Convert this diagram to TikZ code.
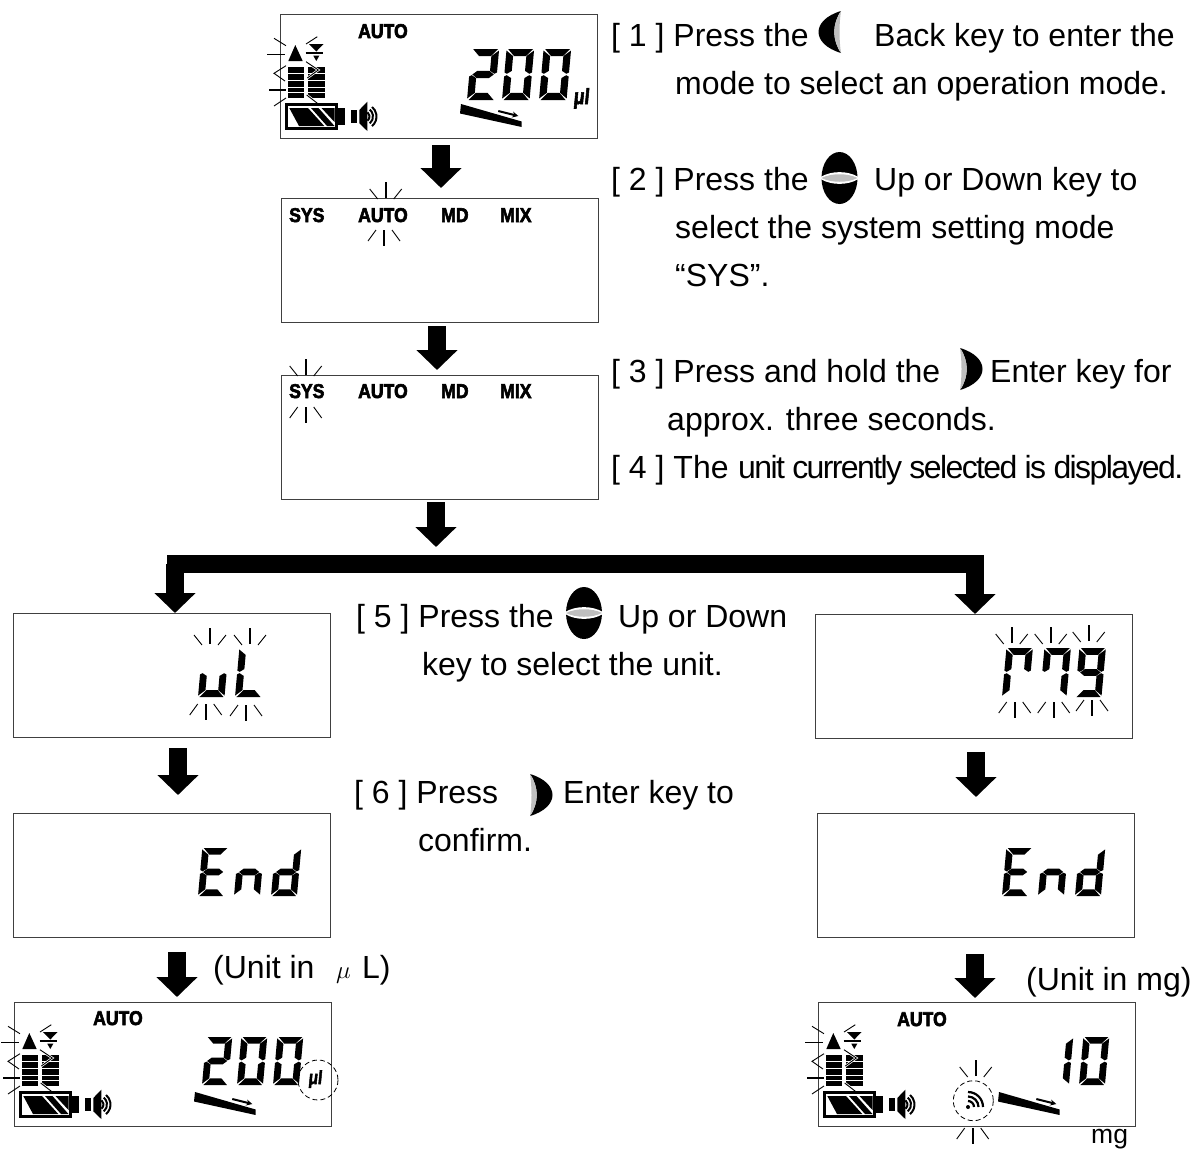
\documentclass[tikz,border=0pt]{standalone}
\usepackage{fontspec}
\usepackage{tikz}
\setmainfont{Liberation Sans}
\newfontfamily\lcdfont[FakeBold=3,FakeStretch=0.88]{Liberation Sans Bold}
\newfontfamily\unitfont[FakeBold=2.5,FakeStretch=0.8,FakeSlant=0.1]{Liberation Sans Bold}
\usetikzlibrary{arrows.meta,positioning,calc}

% Segments of one LCD digit (27 wide, 50 high, y upwards)
\newcommand{\sega}{(1.5,50)--(26,50)--(19.5,43)--(8,43)--cycle}
\newcommand{\segb}{(27,48.5)--(27,27)--(24.5,25.7)--(20,28.5)--(20,43)--cycle}
\newcommand{\segc}{(27,23)--(27,1.5)--(20,7)--(20,21.5)--(24.5,24.3)--cycle}
\newcommand{\segd}{(1.5,0)--(26,0)--(19.5,7)--(8,7)--cycle}
\newcommand{\sege}{(0,1.5)--(7,7)--(7,21.5)--(2.5,24.3)--(0,23)--cycle}
\newcommand{\segf}{(0,48.5)--(7,43)--(7,28.5)--(2.5,25.7)--(0,27)--cycle}
\newcommand{\segg}{(3,25)--(7.5,28.5)--(19.5,28.5)--(24,25)--(19.5,21.5)--(7.5,21.5)--cycle}
% x, y of lower left corner, scale, list of segments
\newcommand{\lcddigit}[4]{%
  \begin{scope}[shift={(#1,#2)},x={(#3pt,0pt)},y={(0.09*#3pt,#3pt)}]
    \foreach \s in {#4} {\fill \csname seg\s\endcsname;}
  \end{scope}}

% Flashing marks above and below a symbol
\newcommand{\raysup}[2]{%
  \begin{scope}[shift={(#1,#2)}]
    \draw[raythick] (0,0) -- (0,-16);
    \draw[raythin] (-8,1) -- (-16,-9);
    \draw[raythin] (8,1) -- (16,-9);
  \end{scope}}
\newcommand{\raysdown}[2]{%
  \begin{scope}[shift={(#1,#2)}]
    \draw[raythick] (0,0) -- (0,16);
    \draw[raythin] (-8,0) -- (-16,11);
    \draw[raythin] (8,0) -- (16,11);
  \end{scope}}

% Keys: tip x and centre y
\newcommand{\enterkey}[2]{%
  \begin{scope}[shift={(#1,#2)}]
    \fill[black] (0,-21) .. controls (30,-12) and (30,12) .. (0,21) .. controls (9,8) and (9,-8) .. (0,-21);
    \fill[black!25] (0,-21) .. controls (9,-8) and (9,8) .. (0,21) .. controls (2,8) and (2,-8) .. (0,-21);
  \end{scope}}
\newcommand{\backkey}[2]{%
  \begin{scope}[shift={(#1,#2)},xscale=-1]
    \fill[black] (0,-21) .. controls (30,-12) and (30,12) .. (0,21) .. controls (9,8) and (9,-8) .. (0,-21);
    \fill[black!25] (0,-21) .. controls (9,-8) and (9,8) .. (0,21) .. controls (2,8) and (2,-8) .. (0,-21);
  \end{scope}}
\newcommand{\updownkey}[2]{%
  \begin{scope}[shift={(#1,#2)}]
    \fill[black] (0,0) ellipse [x radius=18, y radius=26];
    \fill[white] (-19,-1) .. controls (-8,-7.5) and (8,-7.5) .. (19,-1) -- (19,1) .. controls (8,7.5) and (-8,7.5) .. (-19,1) -- cycle;
    \fill[black!25] (-18,0) .. controls (-8,-5) and (8,-5) .. (18,0) .. controls (8,5) and (-8,5) .. (-18,0);
  \end{scope}}

% Symbols of the measuring screen, from the upper left corner of a display
\newcommand{\statusicons}[1]{%
  \begin{scope}[shift={(#1)}]
    % up and down marks
    \fill (8.3,47) -- (15.3,31) -- (22.7,47) -- cycle;
    \fill (29,30) -- (43.5,30) -- (36.3,37.5) -- cycle;
    \draw[line width=1.6pt] (25.7,38.7) -- (43.3,38.7);
    \fill (33.3,41.7) -- (39.3,41.7) -- (36.3,47) -- cycle;
    % volume bars
    \foreach \xa/\xb in {8.3/24,28.3/45} {
      \foreach \ya/\yb in {53.3/58.7,60/66,67/72.7,74.3/78.3,79.3/84.3}
        \fill (\xa,\ya) rectangle (\xb,\yb);
    }
    % flashing marks
    \draw[raythin] (-6,24.3) -- (6,31.7);
    \draw[raythin] (26,30) -- (37.3,22.7);
    \draw[raythick] (-12.7,40.3) -- (5,40.3);
    \draw[raythin] (6,51.7) -- (-6,59.3) -- (5,67);
    \draw[white,line width=2.4pt] (26,47.7) -- (38.3,56) -- (27.3,64);
    \draw[raythin] (26,47.7) -- (38.3,56) -- (27.3,64);
    \draw[raythick] (-11,75.7) -- (6,75.7);
    \draw[raythin] (-6,92) -- (6,84);
    \draw[white,line width=2.4pt] (26.7,81) -- (38.3,90);
    \draw[raythin] (26.7,81) -- (38.3,90);
    % battery
    \draw[line width=3.2pt] (6.5,90.5) rectangle (56.2,114.5);
    \fill (9.3,94) -- (28,94) -- (44.3,112) -- (19,112) -- cycle;
    \fill (31,94) -- (38.5,94) -- (54.5,112) -- (47,112) -- cycle;
    \fill (41.5,94) -- (54.5,94) -- (54.5,108) -- cycle;
    \fill (57.3,94.3) rectangle (65,111);
    % buzzer
    \fill (71,96) rectangle (76.7,109.3);
    \fill (79.3,96) -- (87.3,87.7) -- (87.3,117) -- (79.3,109.3) -- cycle;
    \foreach \r in {5.5,9,12.5}
      \draw[line width=2pt] ([shift={(-50:\r pt)}]84,102.5) arc (-50:50:\r pt);
    % tip and its movement
    \fill (181,90) -- (241.7,107.5) -- (241.7,113) -- (180,99.5) -- cycle;
    \draw[line width=2pt,-{Stealth[length=6pt,width=6pt]}] (218.3,97) -- (238.3,102);
  \end{scope}}

\begin{document}
\begin{tikzpicture}[
    x=1pt, y=-1pt,
    lcdbox/.style={draw=black!75, line width=1pt, minimum width=317pt, minimum height=124pt,
                   inner sep=0pt, anchor=north west},
    steptext/.style={font=\fontsize{32}{36}\selectfont, inner sep=0pt, anchor=base west},
    lcdtext/.style={font=\lcdfont\fontsize{20}{20}\selectfont, inner sep=0pt, anchor=base west},
    unittext/.style={font=\unitfont\fontsize{22}{22}\selectfont, inner sep=0pt, anchor=base west},
    bigarrow/.style={line width=18pt, -{Triangle[length=20pt,width=40pt]}},
    trunk/.style={line width=18pt},
    raythin/.style={line width=0.9pt},
    raythick/.style={line width=1.6pt},
    marker/.style={line width=0.8pt, dash pattern=on 5pt off 3pt},
]
\useasboundingbox (0,0) rectangle (1190,1149);

% Displays
\node[lcdbox] (disp1) at (280,14) {};
\node[lcdbox] (disp2) at (281,198) {};
\node[lcdbox] (disp3) at (281,375) {};
\node[lcdbox] (disp4) at (13,613) {};
\node[lcdbox] (disp5) at (815,614) {};
\node[lcdbox] (disp6) at (13,813) {};
\node[lcdbox] (disp7) at (817,813) {};
\node[lcdbox] (disp8) at (14,1002) {};
\node[lcdbox] (disp9) at (818,1002) {};

% Arrows
\coordinate (arr1) at (441,145);
\coordinate (arr2) at (437,326);
\coordinate (arr3) at (436,502);
\coordinate (trunkL) at (167,564);
\coordinate (trunkR) at (984,564);
\coordinate (armL) at (175,564);
\coordinate (armR) at (975,564);
\coordinate (arr4) at (178,748);
\coordinate (arr5) at (976,752);
\coordinate (arr6) at (177,952);
\coordinate (arr7) at (975,954);
\draw[bigarrow, shorten >=10pt] (arr1) -- (arr1 |- disp2.north);
\draw[bigarrow, shorten >=5pt] (arr2) -- (arr2 |- disp3.north);
\draw[bigarrow, shorten >=17pt] (arr3) -- (arr3 |- trunkL);
\draw[trunk] (trunkL) -- (trunkR);
\draw[bigarrow] (armL) -- (armL |- disp4.north);
\draw[bigarrow] (armR) -- (armR |- disp5.north);
\draw[bigarrow, shorten >=18pt] (arr4) -- (arr4 |- disp6.north);
\draw[bigarrow, shorten >=16pt] (arr5) -- (arr5 |- disp7.north);
\draw[bigarrow, shorten >=5pt] (arr6) -- (arr6 |- disp8.north);
\draw[bigarrow, shorten >=4pt] (arr7) -- (arr7 |- disp9.north);

% Display 1
\node[lcdtext] (auto1) at (358,38) {AUTO};
\statusicons{disp1.north west}
\lcddigit{467}{100}{1.02}{a,b,g,e,d}
\lcddigit{502}{100}{1.02}{a,b,c,d,e,f}
\lcddigit{539}{100}{1.02}{a,b,c,d,e,f}
\node[unittext] (ul1) at (573,104) {μl};

% Display 2
\node[lcdtext] (sys2) at (289,222) {SYS};
\node[lcdtext] (auto2) at (358,222) {AUTO};
\node[lcdtext] (md2) at (441,222) {MD};
\node[lcdtext] (mix2) at (500,222) {MIX};
\raysup{385.7}{198}
\raysdown{384}{230}

% Display 3
\node[lcdtext] (sys3) at (289,398) {SYS};
\node[lcdtext] (auto3) at (358,398) {AUTO};
\node[lcdtext] (md3) at (441,398) {MD};
\node[lcdtext] (mix3) at (500,398) {MIX};
\raysup{305.7}{375}
\raysdown{305.7}{407}

% Display 4
\lcddigit{198}{697}{0.98}{c,d,e}
\lcddigit{235}{697}{0.98}{d,e,f}
\raysup{210}{644}
\raysup{250}{644}
\raysdown{205.7}{704}
\raysdown{246}{705}

% Display 5
\lcddigit{1002}{697}{0.98}{a,b,e,f}
\lcddigit{1040}{697}{0.98}{a,b,c,f}
\lcddigit{1075}{697}{0.98}{a,b,c,d,f,g}
\raysup{1011.7}{643}
\raysup{1050.7}{643}
\raysup{1088.7}{641}
\raysdown{1014.7}{702}
\raysdown{1053.7}{702}
\raysdown{1092}{700}

% Displays 6 and 7
\lcddigit{198}{896}{0.96}{a,d,e,f,g}
\lcddigit{234}{896}{0.96}{c,e,g}
\lcddigit{271}{896}{0.96}{b,c,d,e,g}
\lcddigit{1002}{896}{0.96}{a,d,e,f,g}
\lcddigit{1038}{896}{0.96}{c,e,g}
\lcddigit{1075}{896}{0.96}{b,c,d,e,g}

% Display 8
\node[lcdtext] (auto8) at (93,1025) {AUTO};
\statusicons{disp8.north west}
\lcddigit{202}{1085}{0.96}{a,b,g,e,d}
\lcddigit{237}{1085}{0.96}{a,b,c,d,e,f}
\lcddigit{273}{1085}{0.96}{a,b,c,d,e,f}
\node[unittext, font=\unitfont\fontsize{19}{19}\selectfont] (ul8) at (308,1084) {μl};
\draw[marker] (318,1080) circle [radius=20];

% Display 9
\node[lcdtext] (auto9) at (897,1026) {AUTO};
\statusicons{disp9.north west}
\lcddigit{1043}{1085}{0.96}{b,c}
\lcddigit{1079}{1085}{0.96}{a,b,c,d,e,f}
\draw[marker] (973.3,1100.7) circle [radius=20];
\fill (968,1107) circle [radius=2];
\foreach \r in {6,10.5,15}
  \draw[line width=2.2pt] ([shift={(0:\r pt)}]968,1107) arc (0:90:\r pt);
\raysup{975.7}{1076}
\raysdown{972.7}{1128}

% Texts
\node[steptext] (t1a) at (611,46) {[ 1 ] Press the};
\backkey{841}{32}
\node[steptext] (t1b) at (874,46) {Back key to enter the};
\node[steptext] (t1c) at (675,94) {mode to select an operation mode.};
\node[steptext] (t2a) at (611,190) {[ 2 ] Press the};
\updownkey{839.5}{178}
\node[steptext] (t2b) at (874,190) {Up or Down key to};
\node[steptext] (t2c) at (675,238) {select the system setting mode};
\node[steptext] (t2d) at (675,286) {“SYS”.};
\node[steptext] (t3a) at (611,382) {[ 3 ] Press and hold the};
\enterkey{960}{369}
\node[steptext] (t3b) at (990,382) {Enter key for};
\node[steptext] (t3c) at (667,430) {approx. three seconds.};
\node[steptext] (t4a) at (611,478) {[ 4 ] The};
\node[steptext] (t4b) at (738,478) {\addfontfeature{LetterSpace=-5}unit currently selected is displayed.};
\node[steptext] (t5a) at (356,627) {[ 5 ] Press the};
\updownkey{584}{613}
\node[steptext] (t5b) at (618,627) {Up or Down};
\node[steptext] (t5c) at (422,675) {key to select the unit.};
\node[steptext] (t6a) at (354,803) {[ 6 ] Press};
\enterkey{530}{795}
\node[steptext] (t6b) at (563,803) {Enter key to};
\node[steptext] (t6c) at (418,851) {confirm.};
\node[steptext] (unit1a) at (213,978) {(Unit in};
\node[steptext, font=\fontsize{30}{30}\selectfont] (unit1b) at (336,978) {$\mu$};
\node[steptext] (unit1c) at (362,978) {L)};
\node[steptext] (unit2) at (1026,990) {(Unit in mg)};
\node[steptext, font=\fontsize{26.5}{26}\selectfont] (mg) at (1091,1143) {mg};
\end{tikzpicture}
\end{document}
